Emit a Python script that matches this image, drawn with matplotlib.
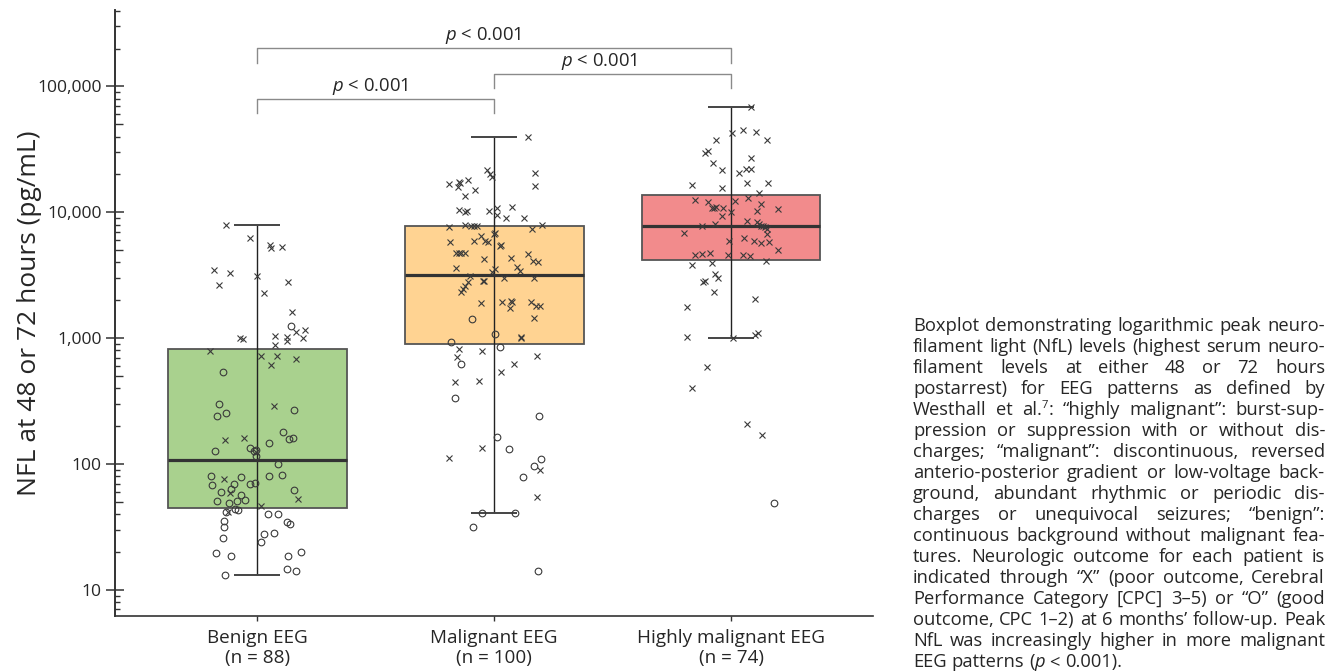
import re
import matplotlib
matplotlib.use("Agg")
import numpy as np
import matplotlib.pyplot as plt
import matplotlib.transforms as mtransforms
from matplotlib.font_manager import FontProperties
from matplotlib.ticker import FixedLocator, FuncFormatter, NullFormatter, LogLocator, NullLocator

plt.rcParams['font.family'] = ['Open Sans', 'DejaVu Sans']
plt.rcParams['mathtext.fontset'] = 'custom'
plt.rcParams['mathtext.rm'] = 'Open Sans'
plt.rcParams['mathtext.it'] = 'Open Sans:italic'

# ---------------- data ----------------
categories = ["Benign EEG\n(n = 88)", "Malignant EEG\n(n = 100)", "Highly malignant EEG\n(n = 74)"]

# box statistics (pg/mL)
whisker_low = [13.2, 40.8, 995]
q1 = [44.5, 896, 4210]
median = [107, 3200, 7790]
q3 = [813, 7790, 13700]
whisker_high = [7900, 39600, 68500]

# individual patients: NfL values, horizontal jitter, outcome (x = poor, o = good)
benign_nfl = [7900, 6200, 5500, 5200, 5300, 3500, 3300, 2650, 3100, 2800,
              2300, 1600, 1240, 1120, 1160, 995, 990, 1040, 890, 1020,
              950, 1000, 790, 720, 725, 614, 681, 534, 301, 254,
              242, 287, 270, 180, 157, 162, 148, 155, 162, 126,
              135, 128, 130, 116, 124, 100, 81, 76, 79, 81,
              82, 68, 69, 70, 70.5, 63, 60, 58.6, 56.8, 62,
              52.7, 51.2, 49.3, 51, 52, 46.4, 41.8, 41.5, 44.2, 43.4,
              39.9, 40.4, 34.5, 33.4, 35.3, 31.6, 26, 27.8, 28.2, 24,
              19.6, 18.7, 18.6, 19.9, 14.7, 14.2, 13.2]
benign_jitter = [-0.131, -0.032, 0.055, 0.058, 0.103, -0.181, -0.114, -0.162, -0.001, 0.131,
                 0.030, 0.146, 0.142, 0.162, 0.201, -0.072, -0.058, 0.077, 0.077, 0.125,
                 0.125, 0.194, -0.198, 0.018, 0.083, 0.058, 0.165, -0.145, -0.163, -0.130,
                 -0.169, 0.069, 0.157, 0.111, 0.134, 0.153, 0.049, -0.134, -0.055, -0.178,
                 -0.030, -0.013, -0.004, -0.004, -0.004, 0.090, -0.195, -0.141, -0.068, 0.052,
                 0.105, -0.189, -0.098, -0.031, -0.008, -0.111, -0.151, -0.114, -0.068, 0.157,
                 0.172, -0.169, -0.118, -0.086, -0.051, 0.018, -0.131, -0.122, -0.093, -0.079,
                 0.045, 0.089, 0.128, 0.139, -0.139, -0.142, -0.143, 0.028, 0.070, 0.016,
                 -0.174, -0.111, 0.132, 0.186, 0.124, 0.165, -0.135]
benign_outcome = ("xxxxxxxxxxxx" "o" "xxxxxxxxxxxxxx" "oooo" "x" "ooooo" "xx" "ooooo" "x" "oo"
                  "x" "ooooooooo" "x" "oo" "x" "oooo" "x" "o" "x" "ooooooooooooooooooo")

malignant_nfl = [39600, 21700, 20000, 19200, 20600, 16100, 16900, 17400, 17000, 16000,
                 17900, 15000, 13400, 10500, 10050, 10150, 10300, 10900, 9500, 11000,
                 8960, 9080, 7640, 7990, 7840, 7840, 7840, 7370, 7990, 6530,
                 6780, 6900, 5810, 5880, 5930, 5860, 5400, 5500, 4750, 4790,
                 4750, 4730, 4260, 4350, 4700, 4080, 4050, 3610, 3570, 3360,
                 3660, 3420, 3100, 3030, 3010, 2770, 2600, 2480, 2330, 2820,
                 2870, 1910, 1940, 1990, 1940, 1730, 1940, 1785, 1800, 1420,
                 1440, 1076, 1030, 1010, 925, 818, 790, 844, 707, 622,
                 720, 618, 534, 445, 458, 334, 240, 165, 135, 132,
                 112, 110, 97, 89.6, 78.8, 54.4, 40.8, 40.8, 31.6, 14.1]
malignant_jitter = [0.142, -0.028, -0.017, -0.010, 0.174, 0.173, -0.190, -0.149, -0.145, -0.151,
                    -0.111, -0.079, -0.124, -0.146, -0.121, -0.115, -0.021, 0.011, 0.011, 0.076,
                    0.051, 0.125, -0.191, -0.121, -0.096, -0.084, -0.073, 0.162, 0.201, -0.054,
                    -0.001, 0.004, -0.186, -0.083, -0.039, -0.027, 0.025, 0.030, -0.162, -0.149,
                    -0.138, -0.124, -0.042, 0.072, 0.143, 0.163, 0.186, -0.159, 0.003, -0.008,
                    0.098, 0.110, -0.100, 0.042, 0.169, -0.110, -0.121, -0.131, -0.139, -0.048,
                    -0.041, -0.055, 0.035, 0.073, 0.076, 0.068, 0.155, 0.177, 0.194, -0.092,
                    0.168, 0.003, 0.113, 0.115, -0.181, -0.146, -0.051, 0.024, -0.157, -0.138,
                    0.181, 0.086, 0.031, -0.166, -0.065, -0.166, 0.191, 0.013, -0.052, 0.063,
                    -0.190, 0.200, 0.170, 0.194, 0.124, 0.181, -0.051, 0.087, -0.090, 0.184]
malignant_outcome = ("xxxxxxxxxx" "xxxxxxxxxx" "xxxxxxxxxx" "xxxxxxxxxx" "xxxxxxxxxx" "xxxxxxxxxx"
                     "xxxxxxxxx" "o" "x" "o" "xx" "o" "xx" "o" "x" "o" "xxxxx" "ooo" "x" "o"
                     "x" "oo" "x" "o" "x" "oooo")

highly_nfl = [68500, 42900, 45000, 43400, 37300, 37300, 29400, 30500, 26800, 24600,
              21500, 20500, 22200, 22200, 16500, 15600, 17000, 17200, 14150, 12500,
              12000, 12230, 13080, 11640, 10900, 10760, 10960, 10760, 10050, 10240,
              10700, 9350, 7790, 8135, 8530, 8380, 8030, 7790, 7840, 7700,
              7330, 6730, 6810, 6300, 5930, 5970, 5750, 5860, 4990, 4615,
              4700, 4790, 4580, 4615, 4500, 3815, 3990, 4110, 3220, 2995,
              2770, 2820, 2330, 2050, 1762, 1013, 995, 1062, 1090, 585,
              403, 208, 170, 48.8]
highly_jitter = [0.086, 0.004, 0.049, 0.105, -0.063, 0.152, -0.110, -0.096, 0.086, -0.076,
                 -0.038, 0.032, 0.063, 0.083, -0.166, -0.038, 0.066, 0.155, 0.117, -0.153,
                 -0.097, 0.018, 0.073, 0.127, -0.081, -0.072, -0.065, -0.032, 0.001, 0.108,
                 0.200, -0.039, -0.124, -0.068, 0.066, 0.108, 0.119, 0.127, 0.136, 0.143,
                 0.151, 0.153, -0.197, 0.054, -0.007, 0.098, 0.125, 0.159, 0.197, -0.152,
                 -0.122, -0.087, -0.011, 0.049, 0.080, -0.165, -0.081, 0.149, -0.069, -0.054,
                 -0.117, -0.111, -0.072, 0.101, -0.186, -0.184, 0.007, 0.101, 0.113, -0.101,
                 -0.166, 0.069, 0.130, 0.181]
highly_outcome = ("xxxxxxxxxx" "xxxxxxxxxx" "xxxxxxxxxx" "xxxxxxxxxx" "xxxxxxxxxx" "xxxxxxxxxx"
                  "xxxxxxxxxx" "xxx" "o")

y_ticks = [10, 100, 1000, 10000, 100000]
comparisons = [(0, 2), (1, 2), (0, 1)]
p_labels = ["$p$ < 0.001", "$p$ < 0.001", "$p$ < 0.001"]

caption_lines = [
    "Boxplot demonstrating logarithmic peak neuro-",
    "filament light (NfL) levels (highest serum neuro-",
    "filament levels at either 48 or 72 hours",
    "postarrest) for EEG patterns as defined by",
    "Westhall et al.^7: \u201chighly malignant\u201d: burst-sup-",
    "pression or suppression with or without dis-",
    "charges; \u201cmalignant\u201d: discontinuous, reversed",
    "anterio-posterior gradient or low-voltage back-",
    "ground, abundant rhythmic or periodic dis-",
    "charges or unequivocal seizures; \u201cbenign\u201d:",
    "continuous background without malignant fea-",
    "tures. Neurologic outcome for each patient is",
    "indicated through \u201cX\u201d (poor outcome, Cerebral",
    "Performance Category [CPC] 3\u20135) or \u201cO\u201d (good",
    "outcome, CPC 1\u20132) at 6 months\u2019 follow-up. Peak",
    "NfL was increasingly higher in more malignant",
    "EEG patterns (*p* < 0.001).",
]

# ---------------- styles ----------------
fills = ['#a9d18e', '#ffd392', '#f28b8c']
edge = '#555555'
ink = '#333333'
txt = '#262626'

W, H = 1338, 671
fig = plt.figure(figsize=(W / 100, H / 100), dpi=100)
ax = fig.add_axes([115 / W, 55 / H, 757.7 / W, 606 / H])

pos = np.arange(len(categories), dtype=float)
box_w = 0.755
cap_w = 0.195

ax.bar(pos, np.array(q3) - np.array(q1), bottom=q1, width=box_w, color=fills,
       edgecolor=edge, linewidth=1.3, zorder=1)
ax.vlines(pos, whisker_low, whisker_high, colors='#222222', lw=1.0, zorder=2)
ax.hlines(whisker_low, pos - cap_w / 2, pos + cap_w / 2, colors='#444444', lw=1.4, zorder=2)
ax.hlines(whisker_high, pos - cap_w / 2, pos + cap_w / 2, colors='#444444', lw=1.4, zorder=2)
ax.hlines(median, pos - box_w / 2, pos + box_w / 2, colors='#333333', lw=2.3, zorder=3)

groups = [(benign_nfl, benign_jitter, benign_outcome),
          (malignant_nfl, malignant_jitter, malignant_outcome),
          (highly_nfl, highly_jitter, highly_outcome)]
for i, (vals, jit, outc) in enumerate(groups):
    assert len(vals) == len(jit) == len(outc)
    vals = np.array(vals)
    xs = pos[i] + np.array(jit)
    oc = np.array(list(outc))
    ax.plot(xs[oc == 'x'], vals[oc == 'x'], ls='none', marker='x', ms=4.9, mew=0.8,
            color='#3a3a3a', zorder=4)
    ax.plot(xs[oc == 'o'], vals[oc == 'o'], ls='none', marker='o', ms=4.8, mew=0.8,
            mfc='none', mec='#3a3a3a', zorder=4)

ax.set_yscale('log')
ax.set_ylim(6.2, 4.05e5)
ax.set_xlim(-0.6, 2.598)
ax.yaxis.set_major_locator(FixedLocator(y_ticks))
ax.yaxis.set_major_formatter(FuncFormatter(lambda v, p: f"{v:,.0f}"))
ax.yaxis.set_minor_locator(LogLocator(base=10, subs=[2, 3, 4, 6, 7, 8, 9], numticks=20))
ax.yaxis.set_minor_formatter(NullFormatter())
ax.tick_params(axis='y', which='major', direction='inout', length=13, width=1.1,
               color=ink, labelsize=12.6, pad=3.2, labelcolor=txt)
ax.tick_params(axis='y', which='minor', direction='in', length=3.6, width=1.0, color=ink)
ax.set_xticks(pos)
ax.set_xticklabels(categories, fontsize=13.6, linespacing=1.14, color=txt)
ax.tick_params(axis='x', which='major', direction='out', length=3.6, width=1.0,
               color=ink, pad=5.5)
ax.xaxis.set_minor_locator(NullLocator())
for s in ['top', 'right']:
    ax.spines[s].set_visible(False)
for s in ['left', 'bottom']:
    ax.spines[s].set_color(ink)
    ax.spines[s].set_linewidth(1.2)

# longer tick at the 5 x 10^n positions
sec = ax.secondary_yaxis('left')
sec.yaxis.set_major_locator(FixedLocator([50, 500, 5000, 50000]))
sec.yaxis.set_major_formatter(NullFormatter())
sec.yaxis.set_minor_locator(NullLocator())
sec.tick_params(axis='y', which='major', direction='in', length=5.8, width=1.0, color=ink)
sec.spines['left'].set_color(ink)
sec.spines['left'].set_linewidth(1.2)

# significance brackets (y in axes fraction)
bt = mtransforms.blended_transform_factory(ax.transData, ax.transAxes)
bracket_top = [0.9368, 0.8939, 0.8526]
bracket_drop = [0.9130, 0.8718, 0.8295]
label_y = [0.9587, 0.9147, 0.8734]
label_shift = [-0.044, -0.055, -0.021]
for (a, b), yt, yd, ly, sh, lab in zip(comparisons, bracket_top, bracket_drop, label_y,
                                      label_shift, p_labels):
    ax.plot([pos[a], pos[a], pos[b], pos[b]], [yd, yt, yt, yd], transform=bt,
            color='#8a8a8a', lw=1.0, clip_on=False, zorder=5)
    ax.text((pos[a] + pos[b]) / 2 + sh, ly, lab, transform=bt, ha='center', va='center',
            fontsize=13.3, color=txt)

fig.text(30 / W, 1 - 313 / H, "NFL at 48 or 72 hours (pg/mL)", rotation=90,
         ha='center', va='center', fontsize=19, color=txt)

# ---------------- justified caption ----------------
fig.canvas.draw()
renderer = fig.canvas.get_renderer()
cap_fs = 13.25
cap_left, cap_right = 913, 1325
base0, step = 331, 21.0
props = {
    'normal': FontProperties(family=['Open Sans'], size=cap_fs),
    'italic': FontProperties(family=['Open Sans'], size=cap_fs, style='italic'),
    'sup': FontProperties(family=['Open Sans'], size=cap_fs * 0.62),
}


def segs_of(word):
    out = []
    for m in re.finditer(r'\^(\w+)|\*(\w+)\*|([^\^\*]+)', word):
        if m.group(1):
            out.append((m.group(1), 'sup'))
        elif m.group(2):
            out.append((m.group(2), 'italic'))
        else:
            out.append((m.group(3), 'normal'))
    return out


def width(t, kind):
    w, h, d = renderer.get_text_width_height_descent(t, props[kind], ismath=False)
    return w


space_w = width("a a", 'normal') - width("aa", 'normal')
for li, line in enumerate(caption_lines):
    words = [segs_of(w) for w in line.split(' ')]
    wws = [sum(width(t, k) for t, k in sg) for sg in words]
    last = li == len(caption_lines) - 1
    gap = space_w if last else (cap_right - cap_left - sum(wws)) / (len(words) - 1)
    x = cap_left
    yb = base0 + li * step
    for sg, ww in zip(words, wws):
        xx = x
        for t, k in sg:
            dy = -7 if k == 'sup' else 0
            fig.text(xx / W, 1 - (yb + dy) / H, t, fontproperties=props[k],
                     ha='left', va='baseline', color=txt)
            xx += width(t, k)
        x += ww + gap

fig.savefig("out.png", dpi=100)
